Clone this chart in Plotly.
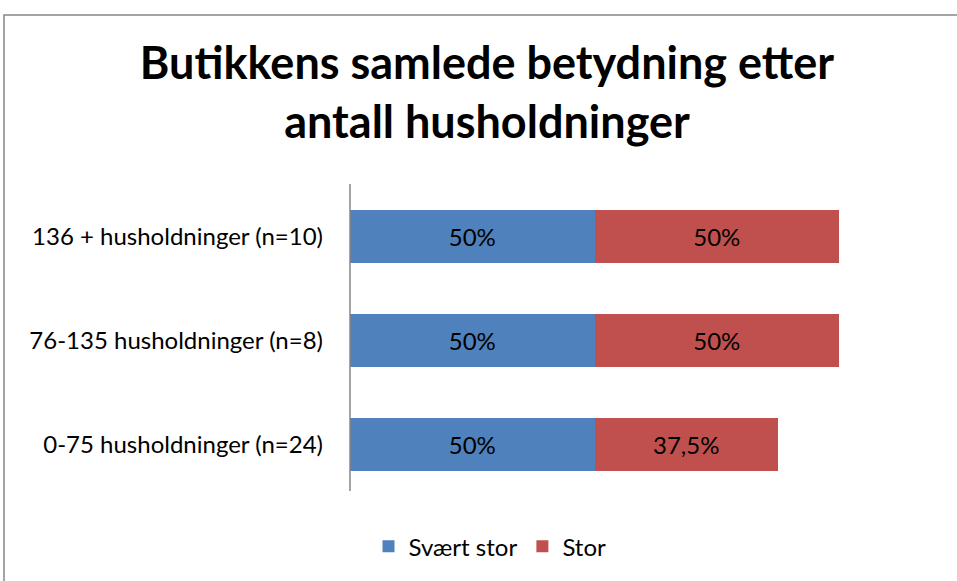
import plotly.graph_objects as go

categories = ["0-75 husholdninger (n=24)", "76-135 husholdninger (n=8)", "136 + husholdninger (n=10)"]
svaert_stor = [0.50, 0.50, 0.50]
stor = [0.375, 0.50, 0.50]
svaert_labels = ["50%", "50%", "50%"]
stor_labels = ["37,5%", "50%", "50%"]
series_names = ["Svært stor", "Stor"]
title_text = "Butikkens samlede betydning etter<br>antall husholdninger"

FONT = "Lato"
W, H = 957, 581
L, R, T, B = 350, 118, 184, 82

fig = go.Figure()
fig.add_trace(go.Bar(
    y=categories, x=svaert_stor, name=series_names[0], orientation="h",
    marker=dict(color="#4F81BD", line=dict(width=0)),
    text=svaert_labels, textposition="inside", insidetextanchor="middle",
    textfont=dict(family=FONT, size=24, color="black"),
))
fig.add_trace(go.Bar(
    y=categories, x=stor, name=series_names[1], orientation="h",
    marker=dict(color="#C0504D", line=dict(width=0)),
    text=stor_labels, textposition="inside", insidetextanchor="middle",
    textfont=dict(family=FONT, size=24, color="black"),
))

pw = W - L - R
ph = H - T - B
def px2x(p):
    return (p - L) / pw
def py2y(p):
    return (H - B - p) / ph

fig.add_shape(type="rect", xref="paper", yref="paper",
              x0=px2x(4), x1=px2x(970), y0=py2y(14), y1=py2y(600),
              line=dict(color="#868686", width=1.5), layer="below")
# axis line (stops slightly above the plot bottom, as in the reference)
fig.add_shape(type="line", xref="paper", yref="paper",
              x0=0, x1=0, y0=py2y(493), y1=1,
              line=dict(color="#868686", width=1.5))

fig.update_layout(
    width=W, height=H,
    margin=dict(l=L, r=R, t=T, b=B, pad=0),
    barmode="stack", bargap=0.49,
    plot_bgcolor="white", paper_bgcolor="white",
    title=dict(text=title_text, x=487 / W, xanchor="center", xref="container",
               y=1 - 79 / H, yanchor="middle", yref="container",
               font=dict(family=FONT, size=45, color="black", weight="bold")),
    xaxis=dict(range=[0, 1], visible=False, showgrid=False),
    yaxis=dict(showline=False, ticks="",
               showgrid=False, ticklabelstandoff=26,
               tickfont=dict(family=FONT, size=24, color="black")),
    legend=dict(orientation="h", x=px2x(490), xanchor="center",
                y=py2y(549), yanchor="middle",
                font=dict(family=FONT, size=24, color="black"),
                traceorder="normal"),
    showlegend=True,
)

fig.write_html("out.html", post_script="document.body.style.margin='0';",
               config={"displayModeBar": False})
